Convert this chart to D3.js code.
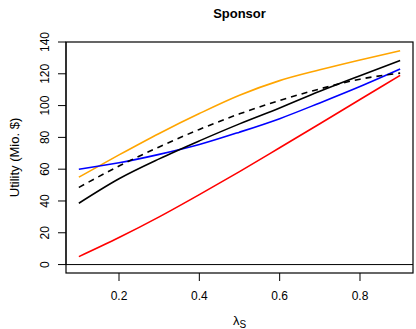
<!DOCTYPE html>
<html>
<head>
<meta charset="utf-8">
<script src="https://cdn.jsdelivr.net/npm/d3@7"></script>
<style>
body { margin: 0; background: #fff; }
text { font-family: "Liberation Sans", Arial, sans-serif; }
</style>
</head>
<body>
<svg width="416" height="329"></svg>
<script>
var lambda = [0.1, 0.2, 0.3, 0.4, 0.5, 0.6, 0.7, 0.8, 0.9];
var orangeVals = [55, 69, 82.5, 95, 106.5, 115.7, 122.5, 128.7, 134.5];
var dashedVals = [48.5, 62, 74, 85, 94.8, 103.2, 110.5, 116.6, 120.4];
var blackVals = [38.6, 54, 66.5, 77.8, 88.5, 98.5, 109, 118.8, 128.4];
var blueVals = [59.9, 64, 69.3, 75.5, 83.3, 91.8, 101.7, 112, 123];
var redVals = [5, 17, 30, 44, 58.5, 73.5, 88.6, 103.8, 119];
var xTicks = [0.2, 0.4, 0.6, 0.8];
var yTicks = [0, 20, 40, 60, 80, 100, 120, 140];

var series = [
    { vals: orangeVals, color: "orange", dash: null },
    { vals: blueVals, color: "#0000ff", dash: null },
    { vals: blackVals, color: "#000", dash: null },
    { vals: dashedVals, color: "#000", dash: "6,5" },
    { vals: redVals, color: "#ff0000", dash: null }
];

var margin = { top: 42, left: 66, right: 3, bottom: 56 };
var width = 416 - margin.left - margin.right;
var height = 329 - margin.top - margin.bottom;

var svg = d3.select("svg");
var g = svg.append("g")
    .attr("transform", "translate(" + margin.left + "," + margin.top + ")");

var x = d3.scaleLinear().domain([0.068, 0.932]).range([0, width]);
var y = d3.scaleLinear().domain([-5.3, 140]).range([height, 0]);

// zero line
g.append("line")
    .attr("x1", 0).attr("x2", width)
    .attr("y1", y(0)).attr("y2", y(0))
    .attr("stroke", "#000").attr("stroke-width", 1);

var line = d3.line()
    .x(function(d, i) { return x(lambda[i]); })
    .y(function(d) { return y(d); })
    .curve(d3.curveMonotoneX);

series.forEach(function(s) {
    g.append("path")
        .attr("d", line(s.vals))
        .attr("fill", "none")
        .attr("stroke", s.color)
        .attr("stroke-width", 1.6)
        .attr("stroke-dasharray", s.dash);
});

// box
g.append("rect")
    .attr("width", width).attr("height", height)
    .attr("fill", "none").attr("stroke", "#000").attr("stroke-width", 1.2);

// x axis
var xa = g.append("g").attr("transform", "translate(0," + height + ")");
xa.selectAll("line").data(xTicks).enter().append("line")
    .attr("x1", function(d) { return x(d); })
    .attr("x2", function(d) { return x(d); })
    .attr("y1", 0).attr("y2", 8)
    .attr("stroke", "#000");
xa.selectAll("text").data(xTicks).enter().append("text")
    .attr("x", function(d) { return x(d); })
    .attr("y", 27)
    .attr("text-anchor", "middle")
    .attr("font-size", 12)
    .text(function(d) { return d3.format(".1f")(d); });

// y axis
var ya = g.append("g");
ya.append("line")
    .attr("x1", 0).attr("x2", 0)
    .attr("y1", y(0)).attr("y2", y(140))
    .attr("stroke", "#000");
ya.selectAll("line.tick").data(yTicks).enter().append("line")
    .attr("class", "tick")
    .attr("x1", -8).attr("x2", 0)
    .attr("y1", function(d) { return y(d); })
    .attr("y2", function(d) { return y(d); })
    .attr("stroke", "#000");
ya.selectAll("text").data(yTicks).enter().append("text")
    .attr("transform", function(d) { return "translate(-21," + y(d) + ") rotate(-90)"; })
    .attr("text-anchor", "middle")
    .attr("dy", "0.35em")
    .attr("font-size", 12)
    .text(function(d) { return d; });

// titles
svg.append("text")
    .attr("x", margin.left + width / 2).attr("y", 18)
    .attr("text-anchor", "middle")
    .attr("font-size", 13).attr("font-weight", "bold")
    .text("Sponsor");

svg.append("text")
    .attr("transform", "translate(19," + (margin.top + height / 2) + ") rotate(-90)")
    .attr("text-anchor", "middle")
    .attr("font-size", 13)
    .text("Utility (Mio. $)");

var xl = svg.append("text")
    .attr("x", margin.left + width / 2).attr("y", 325)
    .attr("text-anchor", "middle")
    .attr("font-size", 13);
xl.append("tspan").text("λ");
xl.append("tspan").attr("dy", 3).attr("font-size", 10).text("S");
</script>
</body>
</html>
